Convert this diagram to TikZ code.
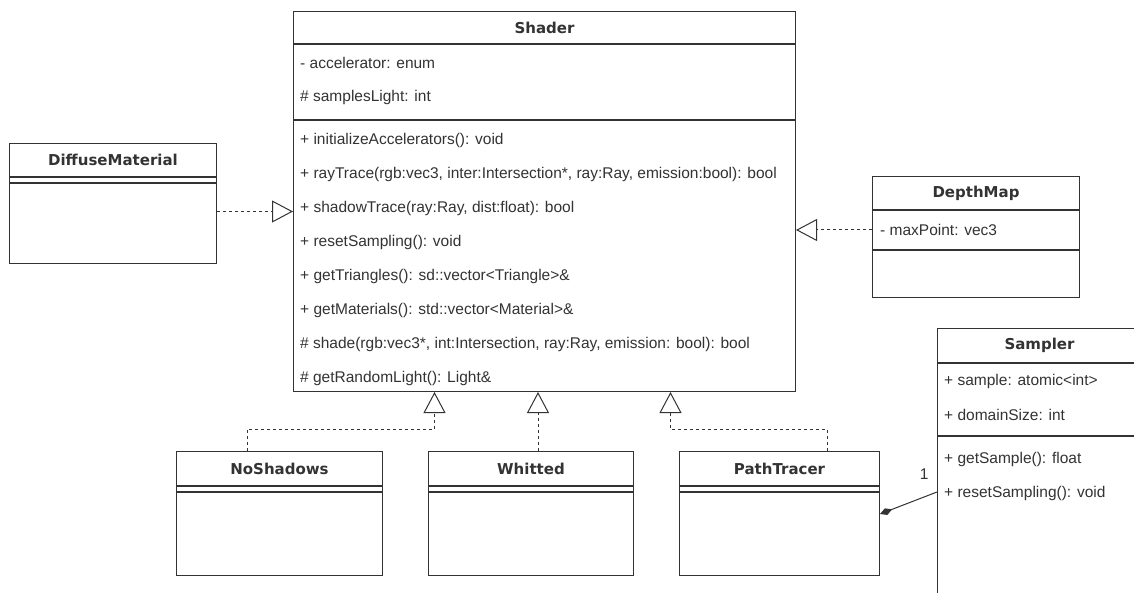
\documentclass[tikz,border=0pt]{standalone}
\usepackage{fontspec}
\setmainfont{Liberation Sans}
\newfontfamily\classfont{DejaVu Sans}
\usepackage{tikz}
\usetikzlibrary{arrows.meta,positioning,calc}
\definecolor{umlStroke}{HTML}{333333}
\definecolor{umlText}{HTML}{333333}

\begin{document}
\begin{tikzpicture}[
    x=1pt, y=-1pt,
    ctitle/.style={rectangle, draw=umlStroke, line width=1pt, fill=white, inner sep=0pt, anchor=north west, text=umlText, font=\classfont\bfseries\fontsize{15}{18}\selectfont},
    cpart/.style={rectangle, draw=umlStroke, line width=1pt, fill=white, inner sep=0pt},
    member/.style={anchor=west, inner sep=0pt, text=umlText, font=\fontsize{15.5}{18}\selectfont},
    realize/.style={draw=umlStroke, line width=1pt, dash pattern=on 3pt off 3pt, -{Triangle[open, length=21pt, width=22pt]}},
    compose/.style={draw=umlStroke, line width=1pt, {Diamond[length=13pt, width=7pt]}-}
]

    \useasboundingbox (0,0) rectangle (1134,593);
    \clip (0,0) rectangle (1134,593);

    % Shader
    \node[ctitle, minimum width=502pt, minimum height=32pt] (shader) at (293,11) {Shader};
    \node[cpart, below=0pt of shader, minimum width=502pt, minimum height=75pt] (shader-attr) {};
    \node[cpart, below=0pt of shader-attr, minimum width=502pt, minimum height=271pt] (shader-ops) {};
    \foreach \txt [count=\i] in {{- accelerator: enum}, {\# samplesLight: int}}
        \node[member] (shader-a\i) at ($(shader-attr.north west)+(7,\i*34-15)$) {\txt};
    \foreach \txt [count=\i] in {
        {+ initializeAccelerators(): void},
        {+ rayTrace(rgb:vec3, inter:Intersection*, ray:Ray, emission:bool): bool},
        {+ shadowTrace(ray:Ray, dist:float): bool},
        {+ resetSampling(): void},
        {+ getTriangles(): sd::vector<Triangle>\&},
        {+ getMaterials(): std::vector<Material>\&},
        {\# shade(rgb:vec3*, int:Intersection, ray:Ray, emission: bool): bool},
        {\# getRandomLight(): Light\&}}
        \node[member] (shader-m\i) at ($(shader-ops.north west)+(7,\i*34-14)$) {\txt};

    % DiffuseMaterial
    \node[ctitle, minimum width=207pt, minimum height=33pt] (diffuse) at (9,143) {DiffuseMaterial};
    \node[cpart, below=0pt of diffuse, minimum width=207pt, minimum height=5pt] (diffuse-attr) {};
    \node[cpart, below=0pt of diffuse-attr, minimum width=207pt, minimum height=80pt] (diffuse-ops) {};

    % DepthMap
    \node[ctitle, minimum width=207pt, minimum height=33pt] (depthmap) at (872,176) {DepthMap};
    \node[cpart, below=0pt of depthmap, minimum width=207pt, minimum height=39pt] (depthmap-attr) {};
    \node[cpart, below=0pt of depthmap-attr, minimum width=207pt, minimum height=47pt] (depthmap-ops) {};
    \node[member] (depthmap-a1) at ([xshift=8pt]depthmap-attr.west) {- maxPoint: vec3};

    % subclasses
    \node[ctitle, minimum width=206pt, minimum height=34pt] (noshadows) at (176,451) {NoShadows};
    \node[cpart, below=0pt of noshadows, minimum width=206pt, minimum height=5pt] (noshadows-attr) {};
    \node[cpart, below=0pt of noshadows-attr, minimum width=206pt, minimum height=83pt] (noshadows-ops) {};

    \node[ctitle, minimum width=205pt, minimum height=34pt] (whitted) at (428,451) {Whitted};
    \node[cpart, below=0pt of whitted, minimum width=205pt, minimum height=5pt] (whitted-attr) {};
    \node[cpart, below=0pt of whitted-attr, minimum width=205pt, minimum height=83pt] (whitted-ops) {};

    \node[ctitle, minimum width=200pt, minimum height=34pt] (pathtracer) at (679,451) {PathTracer};
    \node[cpart, below=0pt of pathtracer, minimum width=200pt, minimum height=5pt] (pathtracer-attr) {};
    \node[cpart, below=0pt of pathtracer-attr, minimum width=200pt, minimum height=83pt] (pathtracer-ops) {};

    % Sampler
    \node[ctitle, minimum width=204pt, minimum height=34pt] (sampler) at (937,328) {Sampler};
    \node[cpart, below=0pt of sampler, minimum width=204pt, minimum height=72pt] (sampler-attr) {};
    \node[cpart, below=0pt of sampler-attr, minimum width=204pt, minimum height=200pt] (sampler-ops) {};
    \foreach \txt [count=\i] in {{+ sample: atomic<int>}, {+ domainSize: int}}
        \node[member] (sampler-a\i) at ($(sampler-attr.north west)+(7,\i*34-16)$) {\txt};
    \foreach \txt [count=\i] in {{+ getSample(): float}, {+ resetSampling(): void}}
        \node[member] (sampler-m\i) at ($(sampler-ops.north west)+(7,\i*34-11)$) {\txt};

    % Edges
    \draw[realize] ([yshift=12pt]diffuse-ops.east) -- ([yshift=12pt]diffuse-ops.east -| shader-ops.west);
    \draw[realize] (depthmap-attr.west) -- (depthmap-attr.west -| shader-ops.east);
    \draw[realize] ([xshift=71pt]noshadows.north west) -- ++(0,-22) -| ([xshift=-110pt]shader-ops.south);
    \draw[realize] ([xshift=7pt]whitted.north) -- ([xshift=7pt]whitted.north |- shader-ops.south);
    \draw[realize] ([xshift=148pt]pathtracer.north west) -- ++(0,-22) -| ([xshift=126pt]shader-ops.south);
    \draw[compose] ([yshift=20pt]pathtracer-ops.east) -- ($(sampler-ops.north west)+(0,56)$)
        node[member, anchor=south east, xshift=-8pt, yshift=12pt] (mult) {1};

\end{tikzpicture}
\end{document}
